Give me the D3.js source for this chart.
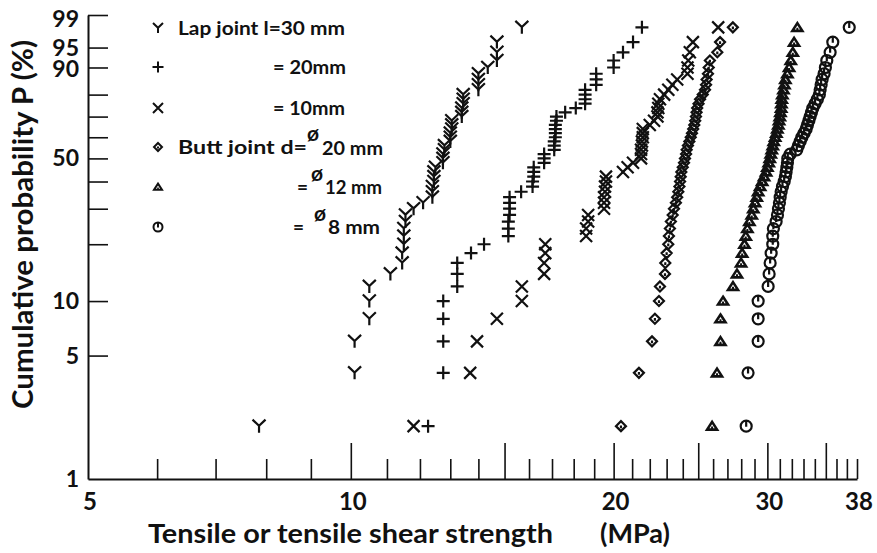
<!DOCTYPE html>
<html>
<head>
<meta charset="utf-8">
<script src="https://cdn.jsdelivr.net/npm/d3@7/dist/d3.min.js"></script>
<style>
  body { margin: 0; background: #fff; }
  svg text { font-family: Lato, "Noto Sans", sans-serif; fill: #111; font-weight: bold; }
</style>
</head>
<body>
<svg id="chart" width="877" height="553"></svg>
<script>
// Cumulative probability (%) of each ranked specimen (49 specimens per joint type)
const cumulativeProb = [2,4,6,8,10,12,14,16,18,20,22,24,26,28,30,32,34,36,38,40,
  42,44,46,48,50,52,54,56,58,60,62,64,66,68,70,72,74,76,78,80,82,84,86,88,90,92,94,96,98];

// Strength (MPa), sorted ascending
const lapJoint30 = [7.85,10.1,10.1,10.5,10.5,10.5,11.1,11.45,11.45,11.5,11.5,11.5,11.55,11.55,11.8,12.1,
  12.4,12.4,12.4,12.45,12.45,12.45,12.5,12.75,12.75,12.75,12.8,12.8,13.0,13.0,13.0,13.05,13.05,13.05,
  13.4,13.4,13.4,13.45,13.45,13.45,14.0,14.0,14.0,14.0,14.35,14.7,14.7,14.7,15.7];
const lapJoint20 = [12.26,12.76,12.76,12.76,12.76,13.24,13.24,13.24,13.73,14.21,15.15,15.15,15.15,15.2,15.2,
  15.2,15.2,15.67,16.15,16.15,16.2,16.2,16.2,16.65,16.65,16.65,17.1,17.1,17.1,17.15,17.15,17.15,17.15,
  17.2,17.2,17.6,18.1,18.55,18.55,18.55,18.55,19.1,19.1,19.1,20.0,20.0,20.5,21.05,21.55];
const lapJoint10 = [11.8,13.7,13.95,14.7,15.7,15.7,16.65,16.65,16.7,16.7,18.6,18.6,18.7,18.7,19.5,19.5,
  19.5,19.55,19.55,19.6,19.6,20.5,20.75,21.05,21.5,21.5,21.5,21.55,21.55,21.6,21.6,21.6,22.0,22.25,
  22.45,22.45,22.5,22.5,22.6,22.85,23.1,23.35,23.65,24.3,24.3,24.35,24.45,24.65,26.35];
const buttJoint20 = [20.39,21.38,22.13,22.30,22.54,22.60,22.90,22.92,23.00,23.10,23.14,23.20,23.26,23.37,
  23.45,23.57,23.65,23.72,23.79,23.83,23.87,23.91,24.00,24.08,24.14,24.21,24.25,24.33,24.42,24.51,24.59,
  24.67,24.74,24.80,24.85,24.89,24.93,25.02,25.12,25.30,25.45,25.52,25.56,25.65,25.70,25.78,26.29,26.48,27.39];
const buttJoint12 = [25.93,26.27,26.51,26.51,26.69,27.40,27.69,27.99,28.07,28.24,28.34,28.46,28.61,28.79,
  28.91,29.04,29.17,29.28,29.43,29.59,29.74,29.90,30.00,30.11,30.19,30.27,30.35,30.43,30.51,30.62,30.72,
  30.80,30.88,30.94,31.00,31.05,31.11,31.13,31.16,31.21,31.30,31.38,31.46,31.63,31.77,31.91,32.08,32.19,32.47];
const buttJoint8 = [28.37,28.51,29.28,29.28,29.28,30.06,30.14,30.22,30.30,30.43,30.43,30.48,30.70,30.81,
  30.89,30.97,31.03,31.11,31.22,31.36,31.46,31.52,31.58,31.63,31.66,31.86,32.42,32.56,32.71,32.86,33.05,
  33.23,33.34,33.47,33.58,33.70,33.82,34.02,34.23,34.41,34.48,34.57,34.66,34.84,34.96,35.09,35.40,35.65,37.23];

// Axis ticks and labels
const xLabelValues = [5, 10, 20, 30, 38];
const xMajorTicks = [10, 15, 20, 25, 30, 35];
const xMinorTicks = [6,7,8,9,11,12,13,14,16,17,18,19,21,22,23,24,26,27,28,29,31,32,33,34,36,37,38];
const yTickValues = [99, 95, 90, 80, 70, 60, 50, 40, 30, 20, 10, 5];
const yLabelValues = [99, 95, 90, 50, 10, 5, 1];

const svg = d3.select("#chart");
const plotLeft = 88, plotRight = 857, plotTop = 15, plotBottom = 479;

// Log strength axis, Weibull probability axis
const x = d3.scaleLog().domain([5, 38]).range([plotLeft, plotRight]);
const weibull = p => Math.log(-Math.log(1 - p / 100));
const yLin = d3.scaleLinear().domain([weibull(1), weibull(99)]).range([plotBottom, plotTop]);
const y = p => yLin(weibull(p));

// Marker shapes
const symY = { draw(c, s) { const r = Math.sqrt(s) / 2;
  c.moveTo(-r, -r); c.lineTo(0, -0.05 * r); c.lineTo(r, -r); c.moveTo(0, -0.05 * r); c.lineTo(0, r); } };
const symPlus = { draw(c, s) { const r = Math.sqrt(s) / 2;
  c.moveTo(-r, 0); c.lineTo(r, 0); c.moveTo(0, -r); c.lineTo(0, r); } };
const symCross = { draw(c, s) { const r = Math.sqrt(s) / 2;
  c.moveTo(-r, -r); c.lineTo(r, r); c.moveTo(r, -r); c.lineTo(-r, r); } };
const symDiamond = { draw(c, s) { const r = Math.sqrt(s) / 2;
  c.moveTo(0, -r); c.lineTo(r, 0); c.lineTo(0, r); c.lineTo(-r, 0); c.closePath();
  c.moveTo(0, -0.15 * r); c.lineTo(0, 0.4 * r); } };
const symTriangle = { draw(c, s) { const r = Math.sqrt(s) / 2;
  c.moveTo(0, -0.85 * r); c.lineTo(r, 0.7 * r); c.lineTo(-r, 0.7 * r); c.closePath();
  c.moveTo(-0.2 * r, 0.35 * r); c.lineTo(0.2 * r, 0.35 * r); } };
const symCircle = { draw(c, s) { const r = Math.sqrt(s) / 2;
  c.moveTo(r, 0); c.arc(0, 0, r, 0, 2 * Math.PI); c.moveTo(0, -r); c.lineTo(0, 0.1 * r); } };

const series = [
  { values: lapJoint30, sym: symY,        size: 13, lsize: 10, sw: 2.2 },
  { values: lapJoint20, sym: symPlus,     size: 13, lsize: 11, sw: 2.2 },
  { values: lapJoint10, sym: symCross,    size: 12, lsize: 10, sw: 2.2 },
  { values: buttJoint20, sym: symDiamond, size: 10, lsize: 8,  sw: 2.2 },
  { values: buttJoint12, sym: symTriangle, size: 10, lsize: 8, sw: 2.6 },
  { values: buttJoint8, sym: symCircle,   size: 11, lsize: 9,  sw: 2.2 }
];

// Axes: ticks point into the plot
const axisStyle = g => {
  g.select(".domain").attr("stroke", "#111").attr("stroke-width", 2);
  g.selectAll(".tick line").attr("stroke", "#111").attr("stroke-width", 1.6);
  g.selectAll(".tick text").remove();
};
svg.append("g").attr("transform", `translate(0,${plotBottom})`)
  .call(d3.axisBottom(x).tickValues(xMinorTicks).tickSizeInner(-20).tickSizeOuter(0).tickFormat(""))
  .call(axisStyle);
svg.append("g").attr("transform", `translate(0,${plotBottom})`)
  .call(d3.axisBottom(x).tickValues(xMajorTicks).tickSizeInner(-36).tickSizeOuter(0).tickFormat(""))
  .call(axisStyle).select(".domain").remove();
svg.append("g").attr("transform", `translate(${plotLeft},0)`)
  .call(d3.axisLeft(yLin).tickValues(yTickValues.map(weibull)).tickSizeInner(-20).tickSizeOuter(0).tickFormat(""))
  .call(axisStyle);

// Tick labels
svg.append("g").selectAll("text").data(xLabelValues).join("text")
  .attr("x", d => x(d) + 2).attr("y", 510)
  .attr("text-anchor", "middle").attr("font-size", 24).text(d => d);
svg.append("g").selectAll("text").data(yLabelValues).join("text")
  .attr("x", 79).attr("y", d => y(d) + (d === 99 ? 12 : d === 90 ? 10 : 8))
  .attr("text-anchor", "end").attr("font-size", 23).text(d => d);

// Axis titles
svg.append("text").attr("x", 148).attr("y", 543).attr("font-size", 26)
  .attr("textLength", 405).attr("lengthAdjust", "spacingAndGlyphs")
  .text("Tensile or tensile shear strength");
svg.append("text").attr("x", 600).attr("y", 543).attr("font-size", 26)
  .attr("textLength", 70).attr("lengthAdjust", "spacingAndGlyphs").text("(MPa)");
svg.append("text").attr("transform", "translate(33,409) rotate(-90)").attr("font-size", 28)
  .attr("textLength", 369).attr("lengthAdjust", "spacingAndGlyphs")
  .text("Cumulative probability P (%)");

// Data points
series.forEach(s => {
  svg.append("g").selectAll("path")
    .data(s.values.map((v, i) => ({ v, p: cumulativeProb[i] })))
    .join("path")
    .attr("transform", d => `translate(${x(d.v)},${y(d.p)})`)
    .attr("d", d3.symbol().type(s.sym).size(s.size * s.size))
    .attr("fill", "none").attr("stroke", "#111").attr("stroke-width", s.sw);
});

// Legend
const legendRows = [28, 67, 108, 147, 187, 227];
series.forEach((s, i) => {
  svg.append("path").attr("transform", `translate(158,${legendRows[i]})`)
    .attr("d", d3.symbol().type(s.sym).size(s.lsize * s.lsize))
    .attr("fill", "none").attr("stroke", "#111").attr("stroke-width", 2);
});
const lg = svg.append("g").attr("font-size", 19);
const addText = (tx, ty, str, w, fs) => {
  const t = lg.append("text").attr("x", tx).attr("y", ty).text(str);
  if (w) t.attr("textLength", w).attr("lengthAdjust", "spacingAndGlyphs");
  if (fs) t.attr("font-size", fs);
  return t;
};
addText(178, 35, "Lap joint l=30 mm", 167);
addText(273, 74, "= 20mm", 73);
addText(273, 115, "= 10mm", 72);
addText(178, 154, "Butt joint d=", 129);
addText(307, 141, "ø", null, 21);
addText(322, 155, "20 mm", 61);
addText(297, 194, "=");
addText(311, 181, "ø", null, 21);
addText(325, 194, "12 mm", 57);
addText(293, 234, "=");
addText(314, 221, "ø", null, 21);
addText(328, 234, "8 mm", 52);
</script>
</body>
</html>
